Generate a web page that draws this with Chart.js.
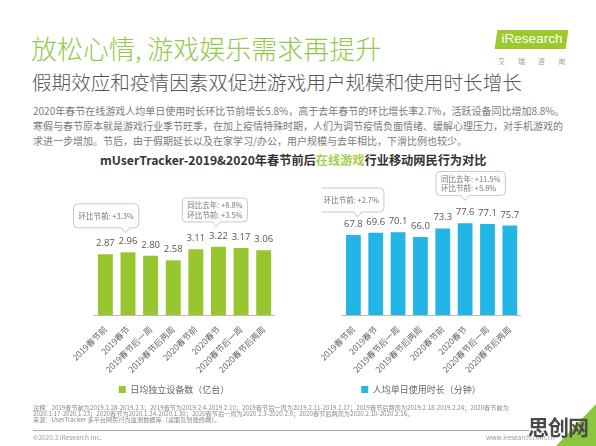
<!DOCTYPE html>
<html>
<head>
<meta charset="utf-8">
<script src="https://cdn.jsdelivr.net/npm/chart.js@4.4.1/dist/chart.umd.min.js"></script>
<style>
    body { margin: 0; width: 596px; height: 446px; background: #fff; position: relative; overflow: hidden; font-family: "Noto Sans CJK SC", "Noto Sans", sans-serif; }
    .abs { position: absolute; white-space: nowrap; line-height: 1; }
    #title { left: 31px; top: 35px; font-size: 26px; font-weight: 300; color: #93c94a; }
    #subtitle { left: 32px; top: 72px; font-size: 19.6px; font-weight: 300; color: #555; }
    #intro { left: 33px; top: 103px; font-size: 10px; line-height: 15px; color: #7a7a7a; }
    #chartTitle { left: 100px; top: 154px; font-size: 12.2px; font-weight: bold; color: #333; }
    #chartTitle span { color: #a3d14b; }
    #logo { left: 496px; top: 30px; width: 71px; height: 19px; background: #9cc92e; transform: skewX(-8deg); }
    #logoText { left: 496px; top: 32px; width: 72px; text-align: center; font-family: "Liberation Sans", sans-serif; font-size: 13.5px; color: #fff; }
    #logoSub { left: 498px; top: 58px; font-size: 7px; color: #999; letter-spacing: 13px; }
    #notes { left: 33px; top: 405px; font-size: 6.2px; line-height: 6px; color: #8a8a8a; }
    #rule { left: 33px; top: 430px; width: 496px; height: 1px; background: #aaa; }
    #copy { left: 33px; top: 434px; font-size: 6.5px; color: #999; }
    #site { left: 486px; top: 434px; font-size: 6.5px; color: #999; }
    #mark { left: 528px; top: 416px; font-size: 21px; font-weight: bold; color: #4a4a4a; letter-spacing: -1px; }
    #corner { left: 556px; top: 404px; width: 40px; height: 42px; background: #8cc63f; clip-path: polygon(100% 0, 100% 100%, 0 100%); }
    .box { position: absolute; }
</style>
</head>
<body>
<div class="abs" id="title">放松心情, 游戏娱乐需求再提升</div>
<div class="abs" id="subtitle">假期效应和疫情因素双促进游戏用户规模和使用时长增长</div>
<div class="abs" id="intro">2020年春节在线游戏人均单日使用时长环比节前增长5.8%，高于去年春节的环比增长率2.7%，活跃设备同比增加8.8%。<br>寒假与春节原本就是游戏行业季节旺季，在加上疫情特殊时期，人们为调节疫情负面情绪、缓解心理压力，对手机游戏的<br>求进一步增加。节后，由于假期延长以及在家学习/办公，用户规模与去年相比，下滑比例也较少。</div>
<div class="abs" id="logo"></div>
<div class="abs" id="logoText">iResearch</div>
<div class="abs" id="logoSub">艾瑞咨询</div>
<div class="abs" id="chartTitle">mUserTracker-2019&amp;2020年春节前后<span>在线游戏</span>行业移动网民行为对比</div>

<div class="box" style="left:73px; top:166px; width:202px; height:238px;"><canvas id="deviceChart"></canvas></div>
<div class="box" style="left:321px; top:166px; width:200px; height:238px;"><canvas id="durationChart"></canvas></div>

<div class="abs" id="notes">注释：2019春节前为2019.1.28-2019.2.3；2019春节为2019.2.4-2019.2.10；2019春节后一周为2019.2.11-2019.2.17；2019春节后两周为2019.2.18-2019.2.24；2020春节前为<br>2020.1.17-2020.1.23；2020春节为2020.1.24-2020.1.30；2020春节后一周为2020.2.3-2020.2.9；2020春节后两周为2020.2.10-2020.2.16。<br>来源：UserTracker 多平台网民行为监测数据库（桌面及智能终端）。</div>
<div class="abs" id="rule"></div>
<div class="abs" id="copy">©2020.2 iResearch Inc.</div>
<div class="abs" id="site">www.iresearch.com.cn</div>
<div class="abs" id="corner"></div>
<div class="abs" id="mark">思创网</div>

<script>
    const categories = ['2019春节前', '2019春节', '2019春节后一周', '2019春节后两周', '2020春节前', '2020春节', '2020春节后一周', '2020春节后两周'];
    const deviceValues = [2.87, 2.96, 2.80, 2.58, 3.11, 3.22, 3.17, 3.06];
    const durationValues = [67.8, 69.6, 70.1, 66.0, 73.3, 77.6, 77.1, 75.7];
    const deviceLabel = '日均独立设备数（亿台）';
    const durationLabel = '人均单日使用时长（分钟）';
    const deviceNotes = [['环比节前: +3.3%'], ['同比去年: +8.8%', '环比节前: +3.5%']];
    const durationNotes = [['环比节前: +2.7%'], ['同比去年: +11.5%', '环比节前: +5.8%']];

    // numbers over the bars
    const valueLabels = {
        id: 'valueLabels',
        afterDatasetsDraw(chart, args, opts) {
            const ctx = chart.ctx;
            const data = chart.data.datasets[0].data;
            ctx.save();
            ctx.font = '9.5px "Open Sans", sans-serif';
            ctx.fillStyle = '#555';
            ctx.textAlign = 'center';
            ctx.textBaseline = 'bottom';
            chart.getDatasetMeta(0).data.forEach((bar, i) => {
                ctx.fillText(data[i].toFixed(opts.digits), bar.x, bar.y - 6);
            });
            ctx.restore();
        }
    };

    // speech-bubble notes, the tip sits on a (fractional) category and a value
    const callouts = {
        id: 'callouts',
        afterDatasetsDraw(chart, args, opts) {
            const { ctx, scales: { x, y } } = chart;
            ctx.save();
            ctx.font = '7.5px "Noto Sans CJK SC", sans-serif';
            (opts.items || []).forEach(it => {
                const tx = x.getPixelForValue(it.at);
                const ty = y.getPixelForValue(it.tip);
                const w = Math.max(...it.lines.map(l => ctx.measureText(l).width)) + 10;
                const h = 24, r = 4;
                const bx = tx - w * it.align, bb = ty - 5, bt = bb - h;
                ctx.beginPath();
                ctx.moveTo(bx + r, bt);
                ctx.arcTo(bx + w, bt, bx + w, bb, r);
                ctx.arcTo(bx + w, bb, bx, bb, r);
                ctx.lineTo(tx + 4, bb);
                ctx.lineTo(tx, ty);
                ctx.lineTo(tx - 4, bb);
                ctx.arcTo(bx, bb, bx, bt, r);
                ctx.arcTo(bx, bt, bx + w, bt, r);
                ctx.closePath();
                ctx.fillStyle = '#fff';
                ctx.fill();
                ctx.strokeStyle = '#c9c9c9';
                ctx.lineWidth = 1;
                ctx.stroke();
                ctx.fillStyle = '#777';
                ctx.textAlign = 'left';
                ctx.textBaseline = 'middle';
                const mid = bt + h / 2, step = 9.5;
                it.lines.forEach((l, i) => {
                    ctx.fillText(l, bx + 5, mid + (i - (it.lines.length - 1) / 2) * step);
                });
            });
            ctx.restore();
        }
    };

    function makeChart(id, values, color, label, max, digits, padTop, notes) {
        return new Chart(document.getElementById(id), {
            type: 'bar',
            data: {
                labels: categories,
                datasets: [{ label: label, data: values, backgroundColor: color, categoryPercentage: 1, barPercentage: 0.66 }]
            },
            options: {
                responsive: true,
                maintainAspectRatio: false,
                animation: false,
                layout: { padding: { top: padTop } },
                scales: {
                    x: {
                        grid: { display: false },
                        border: { color: '#bbb' },
                        ticks: { color: '#666', font: { size: 8.5, family: '"Noto Sans CJK SC"' }, maxRotation: 45, minRotation: 45, padding: 1 },
                        afterFit(scale) { scale.height = 60; }
                    },
                    y: { display: false, min: 0, max: max }
                },
                plugins: {
                    legend: {
                        position: 'bottom',
                        labels: { boxWidth: 7, boxHeight: 7, color: '#666', font: { size: 9, family: '"Noto Sans CJK SC"' }, padding: 10 }
                    },
                    tooltip: { enabled: false },
                    valueLabels: { digits: digits },
                    callouts: { items: notes }
                }
            },
            plugins: [valueLabels, callouts]
        });
    }

    makeChart('deviceChart', deviceValues, '#97c62e', deviceLabel, 6, 2, 22, [
        { at: 0.9, tip: 3.88, align: 0.8, lines: deviceNotes[0] },
        { at: 4.9, tip: 4.16, align: 0.52, lines: deviceNotes[1] }
    ]);
    makeChart('durationChart', durationValues, '#22b5e6', durationLabel, 105, 1, 25, [
        { at: 0.2, tip: 83, align: 0.6, lines: durationNotes[0] },
        { at: 5.0, tip: 97, align: 0.42, lines: durationNotes[1] }
    ]);
</script>
</body>
</html>
